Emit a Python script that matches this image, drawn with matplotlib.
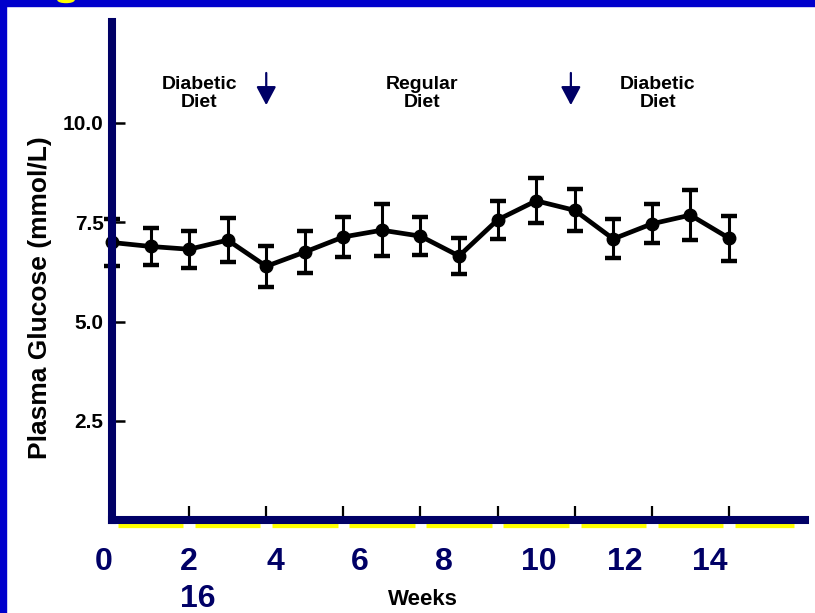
import matplotlib
matplotlib.use("Agg")
import matplotlib.pyplot as plt
from matplotlib.patches import Rectangle, Ellipse

# ---- data ----
weeks = list(range(17))
glucose = [6.99, 6.89, 6.82, 7.05, 6.39, 6.75, 7.13, 7.30, 7.15, 6.65,
           7.56, 8.04, 7.80, 7.08, 7.46, 7.68, 7.10]
sem = [0.60, 0.47, 0.46, 0.56, 0.51, 0.53, 0.50, 0.66, 0.47, 0.45,
       0.47, 0.57, 0.53, 0.49, 0.49, 0.62, 0.57]
y_ticks = [2.5, 5.0, 7.5, 10.0]
y_ticklabels = ["2.5", "5.0", "7.5", "10.0"]
x_ticks = [2, 4, 6, 8, 10, 12, 14, 16]
overlay_labels = ["0", "2", "4", "6", "8", "10", "12", "14", "16"]
phase_labels = ["Diabetic\nDiet", "Regular\nDiet", "Diabetic\nDiet"]
phase_centers = [2.26, 8.04, 14.16]
diet_switch_weeks = [4.0, 11.9]

NAVY = "#000066"
BORDER = "#0000CC"
W, H = 815, 613
BOLD = dict(family=["Liberation Sans", "DejaVu Sans"], weight="bold")

fig = plt.figure(figsize=(W / 100, H / 100), dpi=100)
fig.patch.set_facecolor("white")

# slide frame
fig.patches.append(Rectangle((0, 1 - 6 / H), 1, 6 / H, transform=fig.transFigure,
                             color=BORDER, zorder=0))
fig.patches.append(Rectangle((0, 0), 6 / W, 1, transform=fig.transFigure,
                             color=BORDER, zorder=0))
fig.patches.append(Ellipse((66 / W, 1.0), 16 / W, 5 / H, transform=fig.transFigure,
                           color="#FFFF00", zorder=1))

ax = fig.add_axes([112 / W, 93 / H, (805 - 112) / W, (591 - 93) / H])
ax.set_facecolor("none")
ax.set_xlim(0, (805 - 112) / 38.56)
ax.set_ylim(0, (520 - 22) / 39.7)

for s in ["top", "right"]:
    ax.spines[s].set_visible(False)
for s in ["left", "bottom"]:
    ax.spines[s].set_color(NAVY)
    ax.spines[s].set_linewidth(5.8)
    ax.spines[s].set_capstyle("projecting")
    ax.spines[s].set_zorder(5)

ax.set_yticks(y_ticks)
ax.set_yticklabels(y_ticklabels, fontsize=15, **BOLD)
ax.tick_params(axis="y", direction="in", length=9, width=1.8, color="black",
               labelcolor="black", pad=6)
ax.set_xticks(x_ticks)
ax.tick_params(axis="x", direction="in", length=10, width=1.6, color="black",
               labelbottom=False)

# yellow dashed underline
edges = [0] + x_ticks + [17.84]
for a, b in zip(edges[:-1], edges[1:]):
    ax.plot([a + 0.15, b - 0.15], [-0.13, -0.13], color="#FFFF00", lw=3.8,
            solid_capstyle="butt", clip_on=False, zorder=4)

ax.errorbar(weeks, glucose, yerr=sem, color="black", lw=3.4, marker="o",
            markersize=9, elinewidth=2.2, capsize=5.5, capthick=3.2,
            clip_on=False, zorder=3)

for lab, xc in zip(phase_labels, phase_centers):
    ax.text(xc, 10.74, lab, ha="center", va="center", fontsize=14,
            linespacing=1.05, color="black", **BOLD)

for xw in diet_switch_weeks:
    ax.annotate("", xy=(xw, 10.45), xytext=(xw, 11.26),
                arrowprops=dict(arrowstyle="-|>,head_length=0.45,head_width=0.24",
                                mutation_scale=25, color=NAVY, lw=1.6,
                                shrinkA=0, shrinkB=0))

# slide overlay labels
label_px = [104, 189, 275, 360, 444, 539, 625, 710, 198]
label_py = [570] * 8 + [607]
for lab, px, py in zip(overlay_labels, label_px, label_py):
    fig.text(px / W, 1 - py / H, lab, ha="center", va="baseline", fontsize=23,
             color=NAVY, **BOLD)

fig.text(423 / W, 1 - 605 / H, "Weeks", ha="center", va="baseline",
         fontsize=16, color="black", **BOLD)
fig.text(40 / W, 1 - 298 / H, "Plasma Glucose (mmol/L)", rotation=90,
         ha="center", va="center", fontsize=19, color="black", **BOLD)

fig.savefig("out.png", dpi=100)
